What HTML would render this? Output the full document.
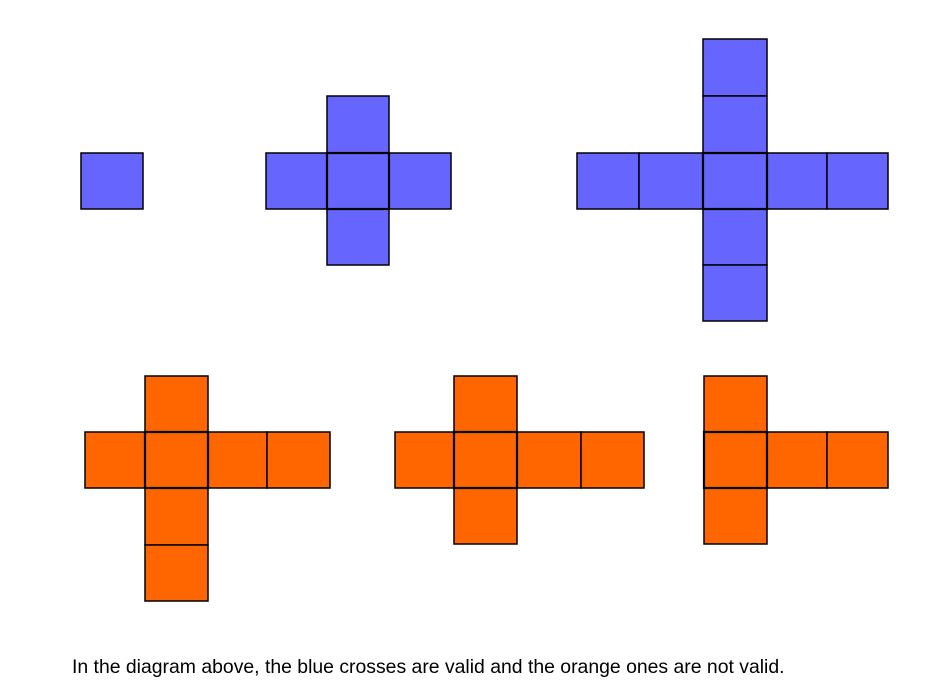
<!DOCTYPE html>
<html><head><meta charset="utf-8"><style>
html,body{margin:0;padding:0;background:#fff;width:942px;height:690px;overflow:hidden}
svg{position:absolute;left:0;top:0}
.b{fill:#6666ff;stroke:#000;stroke-width:1.5}
.o{fill:#ff6600;stroke:#000;stroke-width:1.5}
#cap{position:absolute;left:72px;top:656px;font-family:"Liberation Sans",sans-serif;font-size:19.4px;color:#000;white-space:nowrap}
</style></head><body>
<svg width="942" height="690">
<g>
<rect class="b" x="81" y="153" width="62" height="56"/>
</g>
<g>
<rect class="b" x="327" y="96" width="62" height="57"/>
<rect class="b" x="266" y="153" width="61" height="56"/>
<rect class="b" x="389" y="153" width="62" height="56"/>
<rect class="b" x="327" y="209" width="62" height="56"/>
<rect class="b" x="327" y="153" width="62" height="56" style="stroke-width:2.2"/>
</g>
<g>
<rect class="b" x="703" y="39" width="64" height="57"/>
<rect class="b" x="703" y="96" width="64" height="57"/>
<rect class="b" x="577" y="153" width="62" height="56"/>
<rect class="b" x="639" y="153" width="64" height="56"/>
<rect class="b" x="767" y="153" width="60" height="56"/>
<rect class="b" x="827" y="153" width="61" height="56"/>
<rect class="b" x="703" y="209" width="64" height="56"/>
<rect class="b" x="703" y="265" width="64" height="56"/>
<rect class="b" x="703" y="153" width="64" height="56" style="stroke-width:2.2"/>
</g>
<g>
<rect class="o" x="145" y="376" width="63" height="56"/>
<rect class="o" x="85" y="432" width="60" height="56"/>
<rect class="o" x="208" y="432" width="59" height="56"/>
<rect class="o" x="267" y="432" width="63" height="56"/>
<rect class="o" x="145" y="488" width="63" height="57"/>
<rect class="o" x="145" y="545" width="63" height="56"/>
<rect class="o" x="145" y="432" width="63" height="56" style="stroke-width:2.2"/>
</g>
<g>
<rect class="o" x="454" y="376" width="63" height="56"/>
<rect class="o" x="395" y="432" width="59" height="56"/>
<rect class="o" x="517" y="432" width="64" height="56"/>
<rect class="o" x="581" y="432" width="63" height="56"/>
<rect class="o" x="454" y="488" width="63" height="56"/>
<rect class="o" x="454" y="432" width="63" height="56" style="stroke-width:2.2"/>
</g>
<g>
<rect class="o" x="704" y="376" width="63" height="56"/>
<rect class="o" x="767" y="432" width="60" height="56"/>
<rect class="o" x="827" y="432" width="61" height="56"/>
<rect class="o" x="704" y="488" width="63" height="56"/>
<rect class="o" x="704" y="432" width="63" height="56" style="stroke-width:2.2"/>
</g>
</svg>
<div id="cap">In the diagram above, the blue crosses are valid and the orange ones are not valid.</div>
</body></html>
